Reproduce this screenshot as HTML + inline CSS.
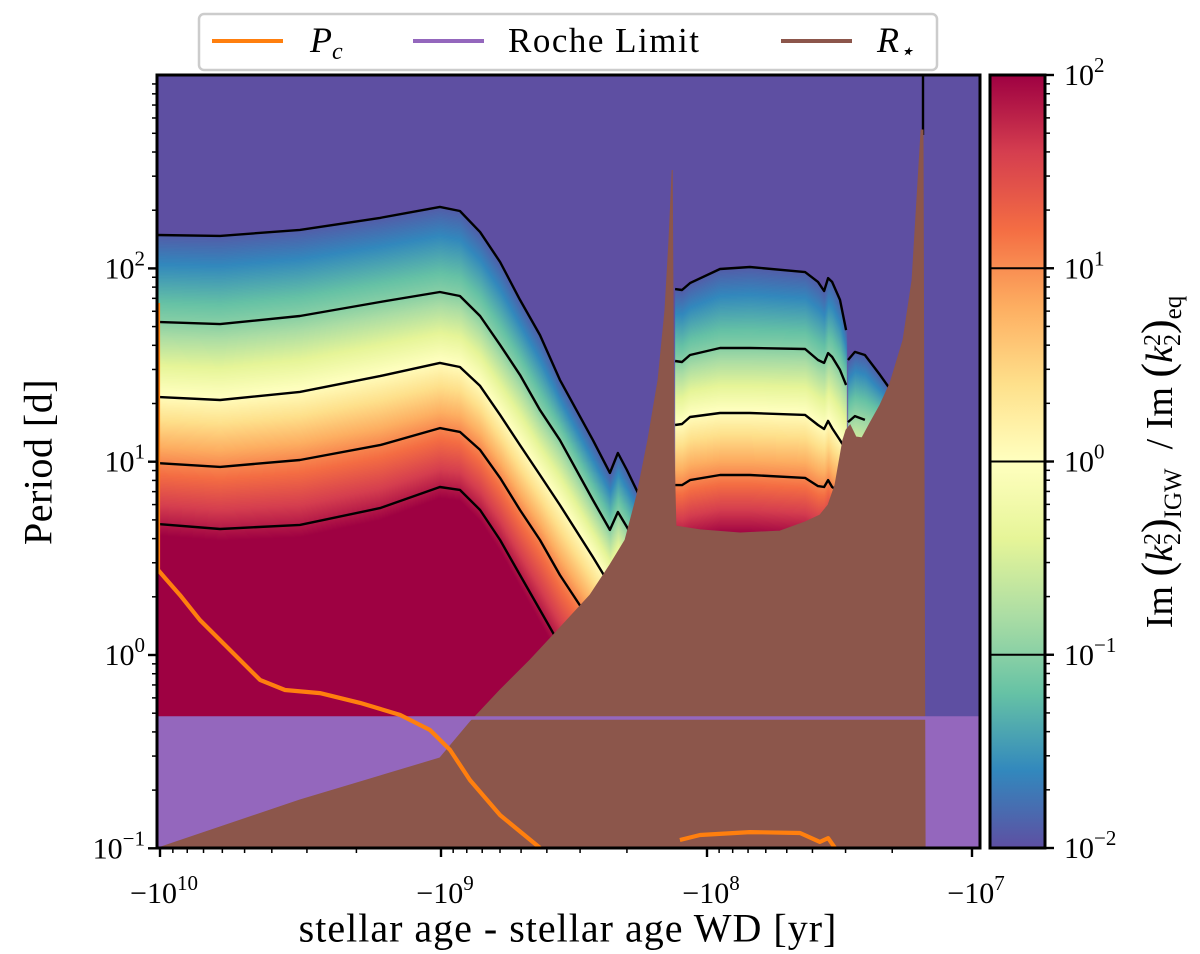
<!DOCTYPE html>
<html><head><meta charset="utf-8">
<style>
body{margin:0;background:#fff;}
#root{position:relative;width:1200px;height:954px;overflow:hidden;font-family:"Liberation Serif",serif;}
#bg{position:absolute;left:157px;top:75px;width:823px;height:773px;background:#5e4fa2;}
#hm{position:absolute;left:157px;top:75px;}
#ov{position:absolute;left:0;top:0;}
.st{display:inline-block;vertical-align:middle;line-height:0.85;font-size:24px;text-align:left}
</style></head>
<body>
<div id="root">
<div id="bg"></div>
<canvas id="hm" width="823" height="773"></canvas>
<svg id="ov" width="1200" height="954"></svg>
<div style="position:absolute;left:1160px;top:462px;transform:translate(-50%,-50%) rotate(-90deg);white-space:nowrap;font-size:38px;">Im <span style="font-size:44px">(</span><i>k</i><span class="st">2<br>2</span><span style="font-size:44px">)</span><sub style="font-size:25px">IGW</sub> &nbsp;/ Im <span style="font-size:44px">(</span><i>k</i><span class="st">2<br>2</span><span style="font-size:44px">)</span><sub style="font-size:25px">eq</sub></div>
<div style="position:absolute;left:38px;top:462px;transform:translate(-50%,-50%) rotate(-90deg);white-space:nowrap;font-size:40px;letter-spacing:0.5px;">Period [d]</div>
<div style="position:absolute;left:568px;top:928px;transform:translate(-50%,-50%);white-space:nowrap;font-size:40px;letter-spacing:1px;">stellar age - stellar age WD [yr]</div>
</div>
<script>
// ---------- data (x: log10|age| , y: log10 Period) ----------
const logAge1 = [10.011,9.786,9.502,9.217,9.004,8.929,8.853,8.778,8.703,8.628,8.553,8.429,8.365,8.335,8.301,8.252];
const b1line1 = [2.173,2.168,2.199,2.261,2.318,2.297,2.188,2.033,1.837,1.655,1.423,1.112,0.942,1.045,0.957,0.817];
const b1line2 = [1.723,1.712,1.754,1.826,1.878,1.857,1.754,1.604,1.449,1.267,1.112,0.802,0.647,0.740,0.662,0.543];
const b1line3 = [1.335,1.319,1.361,1.443,1.511,1.490,1.392,1.242,1.086,0.931,0.776,0.507,0.362,0.440,0.362,0.259];
const b1line4 = [0.993,0.973,1.009,1.086,1.174,1.154,1.061,0.916,0.750,0.595,0.414,0.155,0,0.078,0,-0.103];
const b1line5 = [0.678,0.652,0.673,0.760,0.869,0.854,0.750,0.595,0.414,0.233,0.052,-0.207,-0.336,-0.259,-0.336,-0.440];
const levels1 = [-1.9,-1.0,0.05,1.05,1.85];

const logAge2 = [8.120,8.094,8.064,7.951,7.838,7.630,7.581,7.558,7.543,7.528,7.498,7.475];
const b2line1 = [1.893,1.888,1.924,1.997,2.007,1.981,1.930,1.883,1.950,1.930,1.837,1.681];
const b2line2 = [1.521,1.516,1.552,1.588,1.588,1.583,1.526,1.511,1.562,1.542,1.475,1.397];
const b2line3 = [1.190,1.195,1.231,1.252,1.252,1.242,1.190,1.169,1.211,1.174,1.112,1.061];
const b2line4 = [0.879,0.879,0.905,0.931,0.931,0.916,0.874,0.869,0.905,0.869,0.843,0.828];
const levels2 = [-1.9,-1.0,0.05,1.05];

const logAge3 = [7.468,7.442,7.404,7.347,7.302];
const b3line1 = [1.526,1.568,1.552,1.449,1.361];
const b3line2 = [1.205,1.236,1.216,1.185,1.154];
const levels3 = [-1.9,-0.9];

const starAge = [10.011,9.502,9.004,8.891,8.778,8.665,8.553,8.440,8.365,8.308,8.263,8.222,8.184,8.158,8.143,8.131,8.124,8.117,8.026,7.875,7.725,7.630,7.574,7.543,7.517,7.487,7.475,7.460,7.438,7.415,7.385,7.347,7.309,7.260,7.226,7.208,7.192,7.185,7.177];
const starP = [-1.0,-0.750,-0.533,-0.347,-0.181,-0.026,0.140,0.310,0.466,0.595,0.828,1.112,1.423,1.785,2.147,2.509,1.061,0.667,0.647,0.631,0.641,0.688,0.724,0.776,0.879,1.112,1.164,1.190,1.128,1.123,1.200,1.293,1.407,1.630,1.940,2.354,2.716,2.716,-1.0];

const pcAgeA = [10.007,10.007,9.982,9.929,9.858,9.751,9.644,9.555,9.431,9.288,9.146,9.039,8.966,8.891,8.778,8.628];
const pcPA = [1.821,0.440,0.398,0.310,0.181,0.026,-0.129,-0.181,-0.197,-0.248,-0.310,-0.388,-0.491,-0.647,-0.828,-0.998];
const pcAgeB = [8.102,8.026,7.838,7.649,7.574,7.543,7.517];
const pcPB = [-0.957,-0.931,-0.916,-0.921,-0.967,-0.947,-0.998];

const rocheP = -0.326;
const xTickExp = [10,9,8,7];
const yTickExp = [-1,0,1,2];
const cbTickExp = [-2,-1,0,1,2];

// ---------- scales ----------
const PL=157,PR=980,PT=75,PB=848;
function xS(L){ if(L>=9) return 160+(10-L)*281; if(L>=8) return 441+(9-L)*266; return 707+(8-L)*265; }
function yS(p){ return 655-p*193.3; }
function cbY(l){ return 848-(l+2)*193.25; }
const spec=[[158,1,66],[213,62,79],[244,109,67],[253,174,97],[254,224,139],[255,255,191],[230,245,152],[171,221,164],[102,194,165],[50,136,189],[94,79,162]];
function cmap(l){ let t=(l+2)/4; t=Math.max(0,Math.min(1,t)); let s=(1-t)*10; let i=Math.min(9,Math.floor(s)); let f=s-i; const a=spec[i],b=spec[i+1]; return [a[0]+(b[0]-a[0])*f,a[1]+(b[1]-a[1])*f,a[2]+(b[2]-a[2])*f]; }
function interp(xs,ys,x){ if(x<=xs[0]) return ys[0]; for(let i=1;i<xs.length;i++){ if(x<=xs[i]){ const f=(x-xs[i-1])/(xs[i]-xs[i-1]||1); return ys[i-1]+(ys[i]-ys[i-1])*f; } } return ys[ys.length-1]; }

// ---------- heatmap ----------
const cv=document.getElementById('hm'), ctx=cv.getContext('2d');
const img=ctx.createImageData(823,773);
const blocks=[[logAge1,[b1line1,b1line2,b1line3,b1line4,b1line5],levels1],[logAge2,[b2line1,b2line2,b2line3,b2line4],levels2],[logAge3,[b3line1,b3line2],levels3]];
blocks.forEach(([ages,lines,levs])=>{
  const px=ages.map(xS);
  const x0=Math.round(px[0]), x1=Math.round(px[px.length-1]);
  for(let X=x0;X<=x1;X++){
    const ys=lines.map(ln=>yS(interp(px,ln,X)));
    for(let Y=PT;Y<PB;Y++){
      let l;
      if(Y<ys[0]) l=levs[0]-(ys[0]-Y)*0.05;
      else if(Y>=ys[ys.length-1]){ const n=ys.length-1; const sl=(levs[n]-levs[n-1])/(ys[n]-ys[n-1]); l=levs[n]+(Y-ys[n])*sl; }
      else { for(let k=1;k<ys.length;k++){ if(Y<ys[k]){ l=levs[k-1]+(levs[k]-levs[k-1])*(Y-ys[k-1])/(ys[k]-ys[k-1]); break; } } }
      if(l<-2) continue;
      const c=cmap(l); const cx=X-PL, cy=Y-PT; if(cx<0||cx>=823) continue;
      const o=(cy*823+cx)*4; img.data[o]=c[0];img.data[o+1]=c[1];img.data[o+2]=c[2];img.data[o+3]=255;
    }
  }
});
ctx.putImageData(img,0,0);

// ---------- svg overlay ----------
const NS='http://www.w3.org/2000/svg';
const svg=document.getElementById('ov');
function mk(tag,attrs,parent){ const e=document.createElementNS(NS,tag); for(const k in attrs) e.setAttribute(k,attrs[k]); (parent||svg).appendChild(e); return e; }
function path(ages,ps){ return ages.map((a,i)=>(i?'L':'M')+xS(a).toFixed(1)+','+yS(ps[i]).toFixed(1)).join(''); }

const ry=yS(rocheP);
let e=mk('rect',{x:PL,y:ry,width:PR-PL,height:PB-ry,fill:'#9467bd'});


const clines=[[logAge1,b1line1],[logAge1,b1line2],[logAge1,b1line3],[logAge1,b1line4],[logAge1,b1line5],[logAge2,b2line1],[logAge2,b2line2],[logAge2,b2line3],[logAge2,b2line4],[logAge3,b3line1],[logAge3.slice(0,3),b3line2.slice(0,3)]];
clines.forEach(([a,p])=>{
  const c=mk('path',{d:path(a,p),fill:'none',stroke:'#000','stroke-width':2.4,'stroke-linejoin':'round'});
  
  
});
e=mk('path',{d:'M923,75L923,135',stroke:'#000','stroke-width':2.4});


e=mk('path',{d:path(starAge,starP)+'Z',fill:'#8c564b',stroke:'#8c564b','stroke-width':1});


e=mk('line',{x1:PL,x2:PR,y1:ry,y2:ry,stroke:'#9467bd','stroke-width':3.5});


e=mk('path',{d:path(pcAgeA,pcPA),fill:'none',stroke:'#ff7f0e','stroke-width':4.2,'stroke-linejoin':'round'});


e=mk('path',{d:path(pcAgeB,pcPB),fill:'none',stroke:'#ff7f0e','stroke-width':4.2,'stroke-linejoin':'round'});


e=mk('rect',{x:0,y:PB+1,width:1200,height:106,fill:'#fff'});


e=mk('rect',{x:PL,y:PT,width:PR-PL,height:PB-PT,fill:'none',stroke:'#000','stroke-width':3});



function lbl(x,y,base,exp,anchor,name,neg){
  const t=mk('text',{x:x,y:y,'font-size':30,'text-anchor':anchor,'font-family':'Liberation Serif, serif'});
  
  
  const a=mk('tspan',{},t); a.textContent=(neg?'\u2212':'')+base;
  const b=mk('tspan',{dy:-13,'font-size':21},t); b.textContent=exp;
  return t;
}
xTickExp.forEach(k=>{
  const x=xS(k);
  e=mk('line',{x1:x,x2:x,y1:PB,y2:PB+9,stroke:'#000','stroke-width':2.4});
  
  
  lbl(x+4,PB+55,'10',String(k),'middle','x-tick-label',true);
  if(k<10) for(let a=2;a<10;a++){ const xm=xS(k+Math.log10(a)); const m=mk('line',{x1:xm,x2:xm,y1:PB,y2:PB+5,stroke:'#000','stroke-width':1.5});
    
     }
});
yTickExp.forEach(k=>{
  const y=yS(k);
  e=mk('line',{x1:PL-9,x2:PL,y1:y,y2:y,stroke:'#000','stroke-width':2.4});
  
  
  lbl(PL-12,y+10,'10',k<0?'\u22121':String(k),'end','y-tick-label',false);
  for(let a=2;a<10;a++){ const ym=yS(k+Math.log10(a)); if(ym<PT) continue; const m=mk('line',{x1:PL-5,x2:PL,y1:ym,y2:ym,stroke:'#000','stroke-width':1.5});
    
     }
});
const defs=mk('defs',{});
const g=mk('linearGradient',{id:'cbg',x1:0,y1:1,x2:0,y2:0},defs);
for(let i=0;i<=20;i++){ const c=cmap(-2+i*0.2); mk('stop',{offset:(i/20),'stop-color':`rgb(${c.map(Math.round).join(',')})`},g); }
e=mk('rect',{x:990,y:PT,width:55,height:PB-PT,fill:'url(#cbg)',stroke:'#000','stroke-width':3});


cbTickExp.forEach(k=>{
  const y=cbY(k);
  if(k>-2&&k<2){ const cl=mk('line',{x1:990,x2:1045,y1:y,y2:y,stroke:'#000','stroke-width':2});
    
     }
  e=mk('line',{x1:1045,x2:1054,y1:y,y2:y,stroke:'#000','stroke-width':2.4});
  
  
  lbl(1064,y+10,'10',k<0?'\u2212'+(-k):String(k),'start','colorbar-tick-label',false);
  if(k<2) for(let a=2;a<10;a++){ const ym=cbY(k+Math.log10(a)); const m=mk('line',{x1:1045,x2:1050,y1:ym,y2:ym,stroke:'#000','stroke-width':1.5});
    
     }
});
const lg=mk('g',{});


mk('rect',{x:199,y:14,width:738,height:56,rx:5,fill:'#fff','fill-opacity':0.85,stroke:'#ccc','stroke-width':2.5},lg);
const entries=[['#ff7f0e',212,310,'P','c','legend-entry-pc'],['#9467bd',413,508,'Roche Limit','','legend-entry-roche'],['#8c564b',781,877,'R','\u22c6','legend-entry-rstar']];
entries.forEach(([col,x,tx,txt,sub,name])=>{
  const eg=mk('g',{},lg);
  
  
  mk('line',{x1:x,x2:x+71,y1:41,y2:41,stroke:col,'stroke-width':4},eg);
  const t=mk('text',{x:tx,y:52,'font-size':sub?36:35,'font-family':'Liberation Serif, serif','letter-spacing':sub?0:1.5},eg);
  const a=mk('tspan',{'font-style':sub?'italic':'normal'},t); a.textContent=txt;
  if(sub){ const b=mk('tspan',{dy:7,'font-size':24,'font-style':'italic'},t); b.textContent=sub; }
});
</script>
</body></html>
